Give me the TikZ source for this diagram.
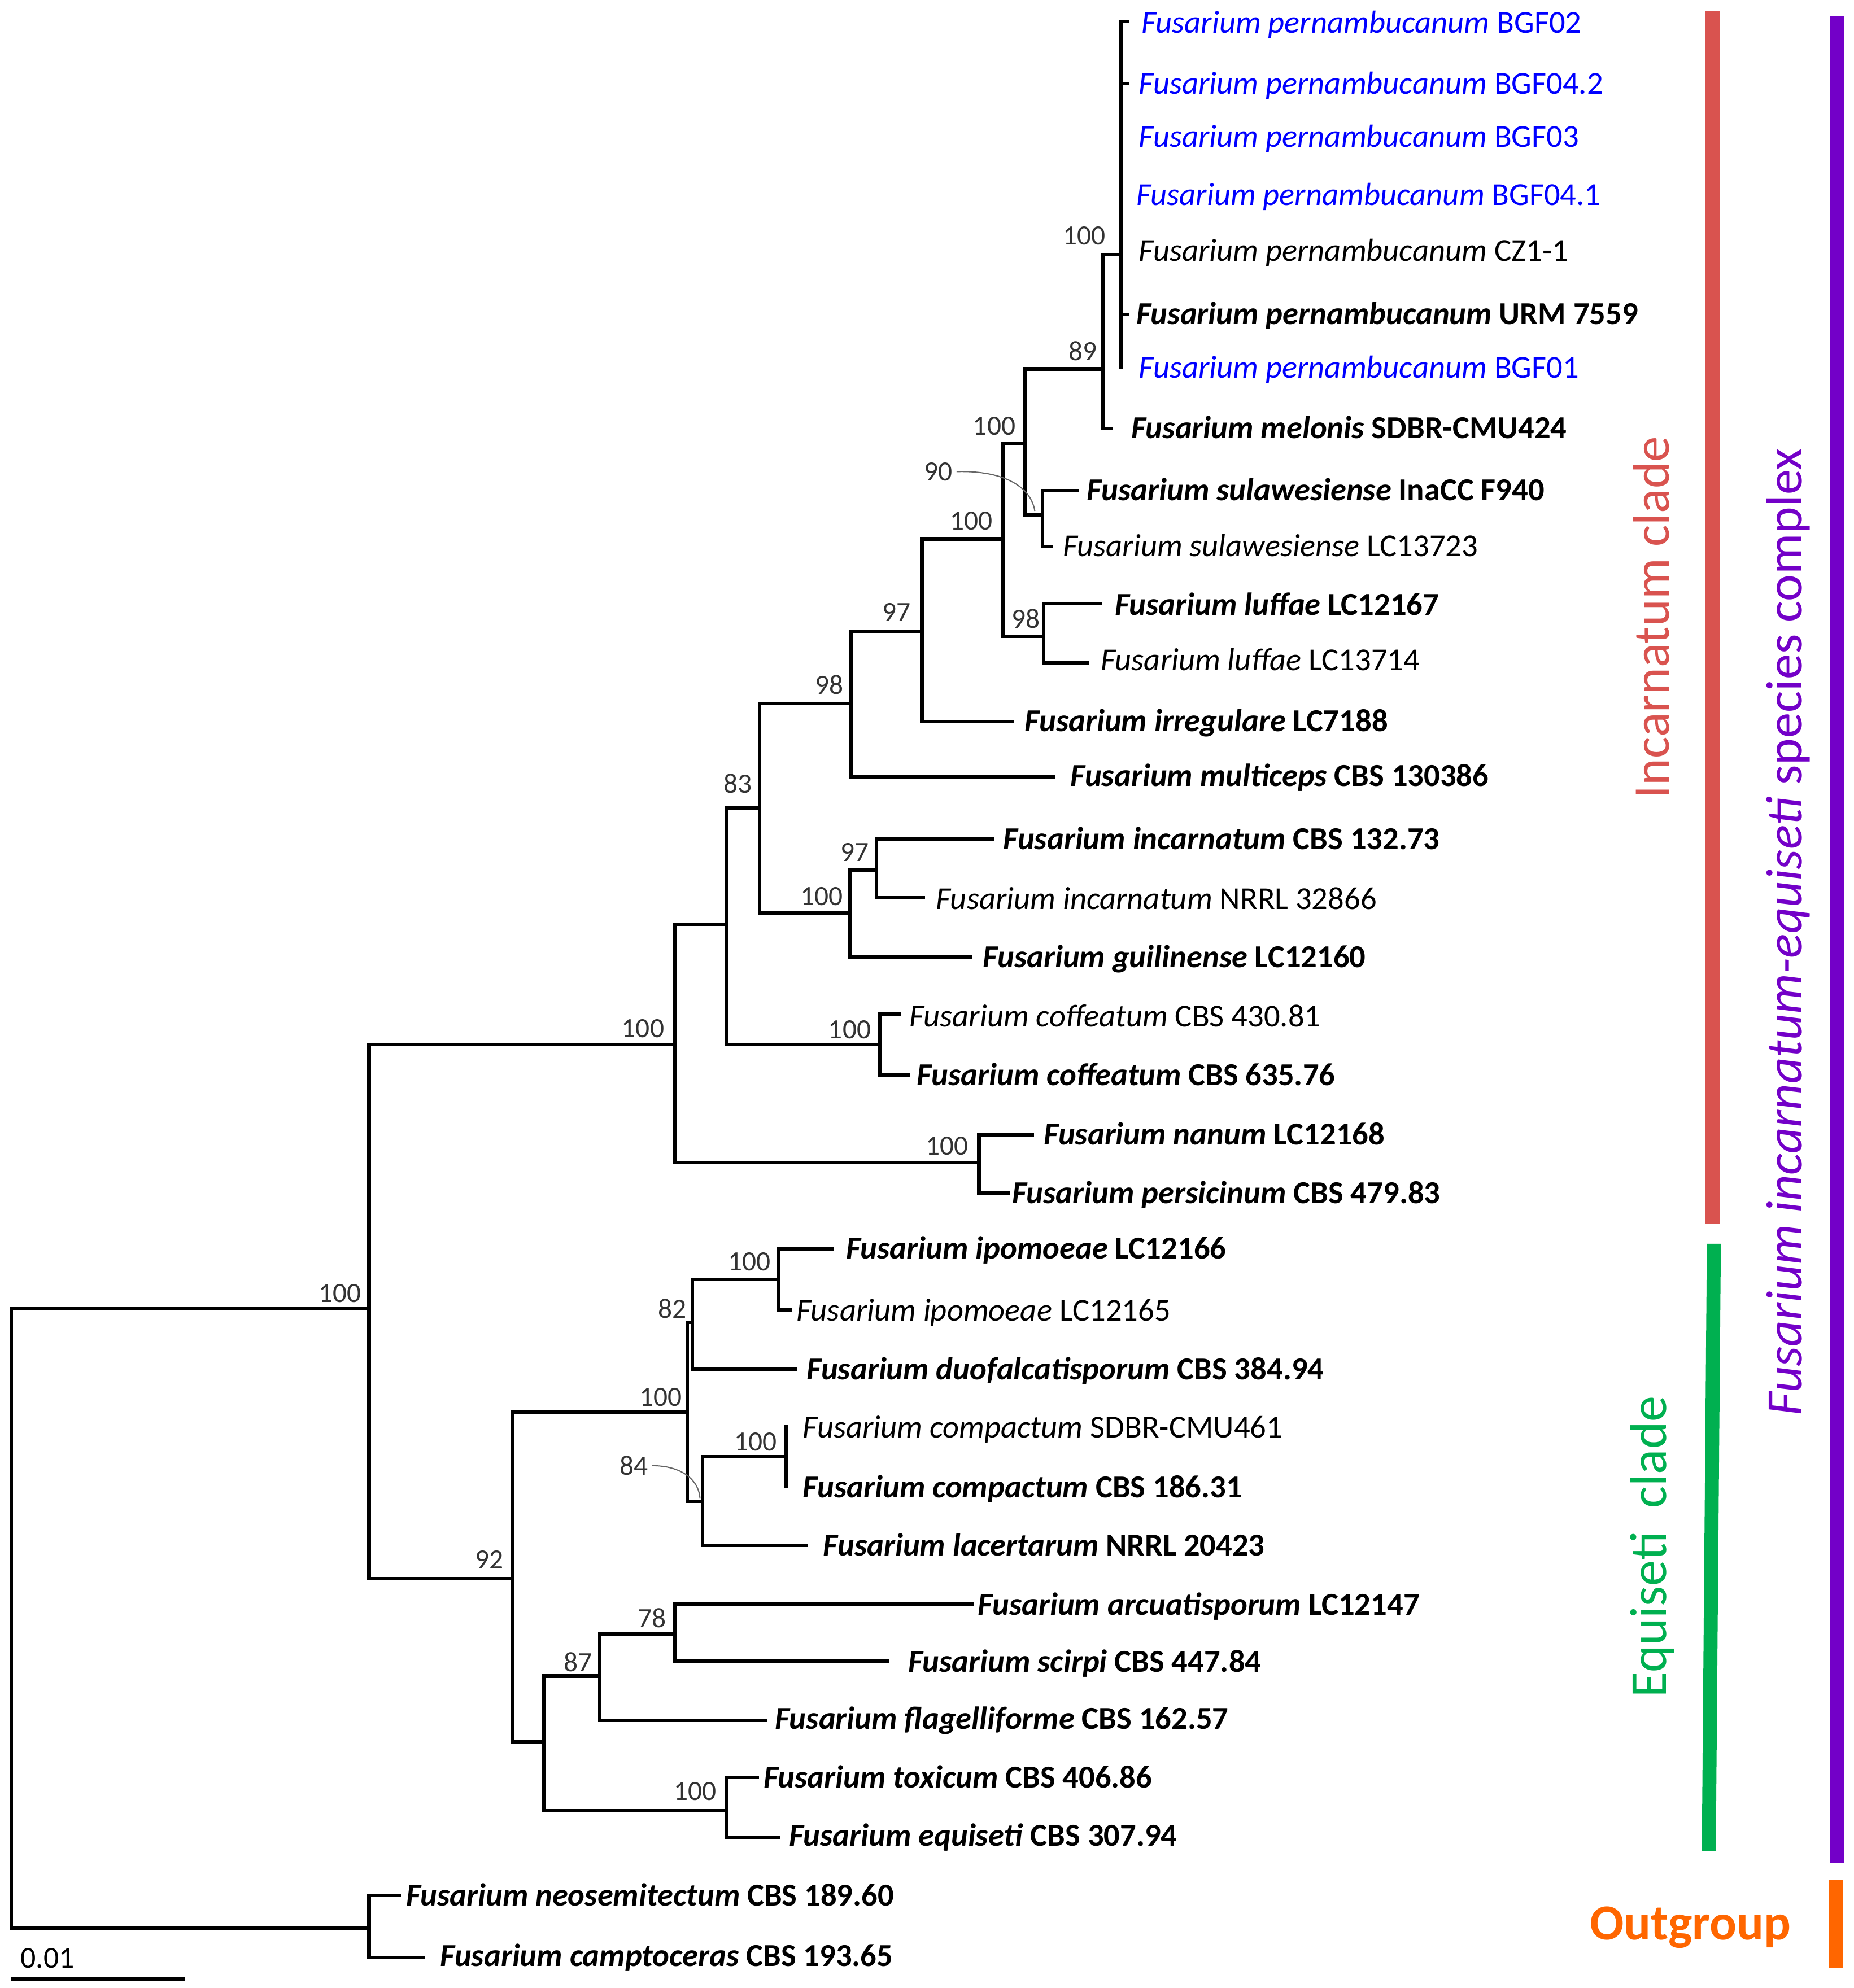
\documentclass[tikz,border=0pt]{standalone}
\usepackage{fontspec}
\setmainfont{Carlito}
\definecolor{fblue}{HTML}{0000FF}
\definecolor{cred}{HTML}{D9534F}
\definecolor{cgreen}{HTML}{00B050}
\definecolor{cpurple}{HTML}{7300C8}
\definecolor{corange}{HTML}{FF6600}
\definecolor{bsgray}{HTML}{333333}
\newcommand{\leafbold}[2]{\textbf{\textit{Fusarium #1} #2}}
\newcommand{\leafplain}[2]{\textit{Fusarium #1} #2}
\newcommand{\leafblue}[1]{\textcolor{fblue}{\textit{Fusarium pernambucanum} #1}}
\begin{document}
\begin{tikzpicture}[x=1pt,y=-1pt,
  br/.style={line width=2.8pt, line cap=rect},
  leaf/.style={anchor=west, inner sep=0pt, text height=16pt, text depth=0pt, font=\fontsize{25.2}{29}\selectfont},
  bs/.style={anchor=center, inner sep=0pt, text=bsgray, font=\fontsize{22}{26}\selectfont},
  pointer/.style={line width=0.9pt, draw=gray!80!black},
  bigtag/.style={inner sep=0pt}]
\useasboundingbox (0,0) rectangle (1462,1568);
\fill[white] (0,0) rectangle (1462,1568);

% internal nodes
\coordinate (R) at (9,1276);
\coordinate (I) at (291,1032);
\coordinate (A) at (532,824);
\coordinate (B) at (573,729);
\coordinate (C) at (599,637);
\coordinate (D) at (671,555);
\coordinate (E) at (727,498);
\coordinate (F) at (791,425);
\coordinate (G) at (808,350);
\coordinate (H) at (870,291);
\coordinate (P) at (884,201);
\coordinate (S) at (822,406);
\coordinate (L) at (823,502);
\coordinate (J) at (670,720);
\coordinate (K) at (691,686);
\coordinate (Cf) at (694,824);
\coordinate (N) at (772,917);
\coordinate (Eq) at (404,1245);
\coordinate (Q) at (542,1114);
\coordinate (Q1) at (546,1043);
\coordinate (Ip) at (614,1009);
\coordinate (Q2) at (554,1184);
\coordinate (Co) at (620,1149);
\coordinate (T) at (429,1374);
\coordinate (U) at (473,1322);
\coordinate (V) at (532,1289);
\coordinate (W) at (573,1428);
\coordinate (O) at (291,1521);

% leaf ends
\coordinate (e1) at (889,17);
\coordinate (e2) at (889,66);
\coordinate (e3) at (884,108);
\coordinate (e4) at (884,154);
\coordinate (e5) at (884,198);
\coordinate (e6) at (889,248);
\coordinate (e7) at (884,290);
\coordinate (e8) at (876,338);
\coordinate (e9) at (849,387);
\coordinate (e10) at (829,431);
\coordinate (e11) at (868,476);
\coordinate (e12) at (857,523);
\coordinate (e13) at (798,569);
\coordinate (e14) at (831,613);
\coordinate (e15) at (783,662);
\coordinate (e16) at (728,708);
\coordinate (e17) at (765,755);
\coordinate (e18) at (709,800);
\coordinate (e19) at (716,848);
\coordinate (e20) at (814,895);
\coordinate (e21) at (795,941);
\coordinate (e22) at (656,985);
\coordinate (e23) at (623,1033);
\coordinate (e24) at (627,1080);
\coordinate (e25) at (620,1125);
\coordinate (e26) at (620,1172);
\coordinate (e27) at (636,1219);
\coordinate (e28) at (767,1265);
\coordinate (e29) at (700,1310);
\coordinate (e30) at (604,1357);
\coordinate (e31) at (597,1402);
\coordinate (e32) at (614,1449);
\coordinate (e33) at (315,1495);
\coordinate (e34) at (334,1544);

% leaf labels
\node[leaf] (t1) at (900,18) {\leafblue{BGF02}};
\node[leaf] (t2) at (898,66) {\leafblue{BGF04.2}};
\node[leaf] (t3) at (898,108) {\leafblue{BGF03}};
\node[leaf] (t4) at (896,154) {\leafblue{BGF04.1}};
\node[leaf] (t5) at (898,198) {\leafplain{pernambucanum}{CZ1-1}};
\node[leaf] (t6) at (896,248) {\leafbold{pernambucanum}{URM 7559}};
\node[leaf] (t7) at (898,290) {\leafblue{BGF01}};
\node[leaf] (t8) at (892,338) {\leafbold{melonis}{SDBR-CMU424}};
\node[leaf] (t9) at (857,387) {\leafbold{sulawesiense}{InaCC F940}};
\node[leaf] (t10) at (838,431) {\leafplain{sulawesiense}{LC13723}};
\node[leaf] (t11) at (879,477) {\leafbold{luffae}{LC12167}};
\node[leaf] (t12) at (868,521) {\leafplain{luffae}{LC13714}};
\node[leaf] (t13) at (808,569) {\leafbold{irregulare}{LC7188}};
\node[leaf] (t14) at (844,612) {\leafbold{multiceps}{CBS 130386}};
\node[leaf] (t15) at (791,662) {\leafbold{incarnatum}{CBS 132.73}};
\node[leaf] (t16) at (738,709) {\leafplain{incarnatum}{NRRL 32866}};
\node[leaf] (t17) at (775,755) {\leafbold{guilinense}{LC12160}};
\node[leaf] (t18) at (717,802) {\leafplain{coffeatum}{CBS 430.81}};
\node[leaf] (t19) at (723,848) {\leafbold{coffeatum}{CBS 635.76}};
\node[leaf] (t20) at (823,895) {\leafbold{nanum}{LC12168}};
\node[leaf] (t21) at (798,941) {\leafbold{persicinum}{CBS 479.83}};
\node[leaf] (t22) at (667,985) {\leafbold{ipomoeae}{LC12166}};
\node[leaf] (t23) at (628,1034) {\leafplain{ipomoeae}{LC12165}};
\node[leaf] (t24) at (636,1080) {\leafbold{duofalcatisporum}{CBS 384.94}};
\node[leaf] (t25) at (633,1126) {\leafplain{compactum}{SDBR-CMU461}};
\node[leaf] (t26) at (633,1173) {\leafbold{compactum}{CBS 186.31}};
\node[leaf] (t27) at (649,1219) {\leafbold{lacertarum}{NRRL 20423}};
\node[leaf] (t28) at (771,1266) {\leafbold{arcuatisporum}{LC12147}};
\node[leaf] (t29) at (716,1311) {\leafbold{scirpi}{CBS 447.84}};
\node[leaf] (t30) at (611,1356) {\leafbold{flagelliforme}{CBS 162.57}};
\node[leaf] (t31) at (602,1402) {\leafbold{toxicum}{CBS 406.86}};
\node[leaf] (t32) at (622,1448) {\leafbold{equiseti}{CBS 307.94}};
\node[leaf] (t33) at (320,1495) {\leafbold{neosemitectum}{CBS 189.60}};
\node[leaf] (t34) at (347,1543) {\leafbold{camptoceras}{CBS 193.65}};

% tree edges
\draw[br] (R) |- (I);  \draw[br] (R) |- (O);
\draw[br] (I) |- (A);  \draw[br] (I) |- (Eq);
\draw[br] (A) |- (B);  \draw[br] (A) |- (N);
\draw[br] (B) |- (C);  \draw[br] (B) |- (Cf);
\draw[br] (C) |- (D);  \draw[br] (C) |- (J);
\draw[br] (D) |- (E);  \draw[br] (D) |- (e14);
\draw[br] (E) |- (F);  \draw[br] (E) |- (e13);
\draw[br] (F) |- (G);  \draw[br] (F) |- (L);
\draw[br] (G) |- (H);  \draw[br] (G) |- (S);
\draw[br] (H) |- (P);  \draw[br] (H) |- (e8);
\foreach \k in {1,...,7} {\draw[br] (P) |- (e\k);}
\draw[br] (S) |- (e9);  \draw[br] (S) |- (e10);
\draw[br] (L) |- (e11); \draw[br] (L) |- (e12);
\draw[br] (J) |- (K);   \draw[br] (J) |- (e17);
\draw[br] (K) |- (e15); \draw[br] (K) |- (e16);
\draw[br] (Cf) |- (e18); \draw[br] (Cf) |- (e19);
\draw[br] (N) |- (e20); \draw[br] (N) |- (e21);
\draw[br] (Eq) |- (Q);  \draw[br] (Eq) |- (T);
\draw[br] (Q) |- (Q1);  \draw[br] (Q) |- (Q2);
\draw[br] (Q1) |- (Ip); \draw[br] (Q1) |- (e24);
\draw[br] (Ip) |- (e22); \draw[br] (Ip) |- (e23);
\draw[br] (Q2) |- (Co); \draw[br] (Q2) |- (e27);
\draw[br] (Co) |- (e25); \draw[br] (Co) |- (e26);
\draw[br] (T) |- (U);   \draw[br] (T) |- (W);
\draw[br] (U) |- (V);   \draw[br] (U) |- (e30);
\draw[br] (V) |- (e28); \draw[br] (V) |- (e29);
\draw[br] (W) |- (e31); \draw[br] (W) |- (e32);
\draw[br] (O) |- (e33); \draw[br] (O) |- (e34);

% bootstrap values
\node[bs] (bI) at (268,1020) {100};
\node[bs] (bA) at (507,811) {100};
\node[bs] (bC) at (582,618) {83};
\node[bs] (bD) at (654,540) {98};
\node[bs] (bE) at (707,483) {97};
\node[bs] (bF) at (766,411) {100};
\node[bs] (bG) at (784,336) {100};
\node[bs] (bH) at (854,277) {89};
\node[bs] (bP) at (855,186) {100};
\node[bs] (bS) at (740,372) {90};
\node[bs] (bL) at (809,488) {98};
\node[bs] (bJ) at (648,707) {100};
\node[bs] (bK) at (674,672) {97};
\node[bs] (bCf) at (670,812) {100};
\node[bs] (bN) at (747,904) {100};
\node[bs] (bEq) at (386,1230) {92};
\node[bs] (bQ) at (521,1102) {100};
\node[bs] (bQ1) at (530,1032) {82};
\node[bs] (bIp) at (591,995) {100};
\node[bs] (bQ2) at (500,1156) {84};
\node[bs] (bCo) at (596,1137) {100};
\node[bs] (bU) at (456,1311) {87};
\node[bs] (bV) at (514,1276) {78};
\node[bs] (bW) at (548,1413) {100};

% pointer curves
\coordinate (p90) at (816,403);
\coordinate (p84) at (552,1182);
\draw[pointer] ([xshift=3pt]bS.east) .. controls (792,371) and (813,384) .. (p90);
\draw[pointer] ([xshift=3pt]bQ2.east) .. controls (536,1156) and (551,1166) .. (p84);

% scale bar
\coordinate (sb1) at (9,1561);
\coordinate (sb2) at (146,1561);
\draw[line width=2.8pt] (sb1) -- (sb2);
\node[anchor=base west, inner sep=0pt, font=\fontsize{24}{28}\selectfont] (sbl) at (16,1552) {0.01};

% clade bars
\fill[cred] (1345,9) rectangle (1356,965);
\fill[cgreen] (1346,981) -- (1357,981) -- (1353,1460) -- (1342,1460) -- cycle;
\fill[cpurple] (1443,13) rectangle (1454,1469);
\fill[corange] (1442,1483) rectangle (1453,1552);

% clade labels
\node[bigtag, rotate=90, anchor=base, text=cred, font=\fontsize{40.5}{46}\selectfont] (incl) at (1316,487) {Incarnatum clade};
\node[bigtag, rotate=90, anchor=base, text=cgreen, font=\fontsize{41}{46}\selectfont] (eqcl) at (1314,1220) {Equiseti\ \ clade};
\node[bigtag, rotate=90, anchor=base, text=cpurple, font=\fontsize{40.3}{46}\selectfont] (fiesc) at (1421,735) {\textit{Fusarium incarnatum-equiseti} species complex};
\node[inner sep=0pt, anchor=base, text=corange, font=\fontsize{39.8}{46}\selectfont\bfseries] (outg) at (1333,1530) {Outgroup};
\end{tikzpicture}
\end{document}
